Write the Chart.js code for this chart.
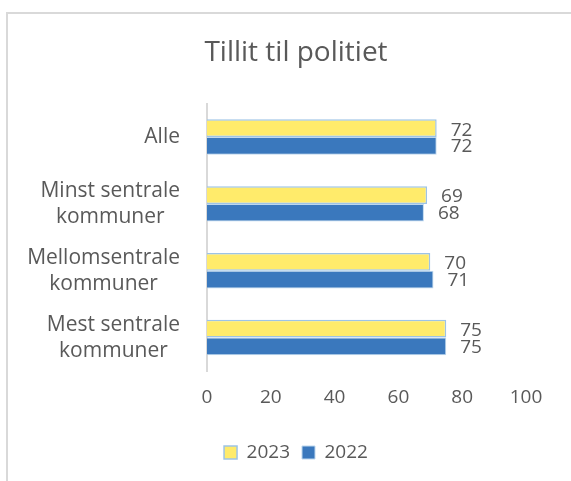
<!DOCTYPE html>
<html>
<head>
<meta charset="utf-8">
<script src="https://cdn.jsdelivr.net/npm/chart.js@4/dist/chart.umd.min.js"></script>
<style>
  html, body { margin: 0; padding: 0; background: #fff; }
  #frame {
    position: absolute; left: 6px; top: 12px; width: 571px; height: 481px;
    border-left: 2px solid #d9d9d9; border-top: 2px solid #d9d9d9;
  }
  #chart { position: absolute; left: 0; top: 0; }
</style>
</head>
<body>
<div id="frame"></div>
<canvas id="chart" width="571" height="481"></canvas>
<script>
// data
const categories = [['Alle'], ['Minst sentrale', 'kommuner'], ['Mellomsentrale', 'kommuner'], ['Mest sentrale', 'kommuner']];
const values2023 = [72, 69, 70, 75];
const values2022 = [72, 68, 71, 75];
const xTicks = [0, 20, 40, 60, 80, 100];

const textColor = '#595959';
const fontFamily = '"Open Sans", sans-serif';

// value labels just right of each bar
const barLabels = {
    id: 'barLabels',
    afterDatasetsDraw(chart) {
        const ctx = chart.ctx;
        ctx.save();
        ctx.font = '19px ' + fontFamily;
        ctx.fillStyle = textColor;
        ctx.textAlign = 'left';
        ctx.textBaseline = 'middle';
        chart.data.datasets.forEach((ds, i) => {
            chart.getDatasetMeta(i).data.forEach((bar, j) => {
                ctx.fillText(ds.data[j], bar.x + 14, bar.y + (i === 0 ? 2 : 1));
            });
        });
        ctx.restore();
    }
};

// category labels: block right-aligned, lines centred inside the block (like Excel)
const catLabels = {
    id: 'catLabels',
    afterDraw(chart) {
        const ctx = chart.ctx;
        const y = chart.scales.y;
        const right = 180, lh = 26;
        ctx.save();
        ctx.font = '21px ' + fontFamily;
        ctx.fillStyle = textColor;
        ctx.textAlign = 'center';
        ctx.textBaseline = 'middle';
        categories.forEach((lines, i) => {
            const w = Math.max(...lines.map(l => ctx.measureText(l).width));
            const cy = y.getPixelForValue(i);
            lines.forEach((l, k) => {
                ctx.fillText(l, right - w / 2, cy + (k - (lines.length - 1) / 2) * lh);
            });
        });
        ctx.restore();
    }
};

new Chart(document.getElementById('chart'), {
    type: 'bar',
    data: {
        labels: categories,
        datasets: [{
            label: '2023',
            data: values2023,
            backgroundColor: '#ffeb6b',
            borderColor: '#9dc3e6',
            borderWidth: 1.5
        }, {
            label: '2022',
            data: values2022,
            backgroundColor: '#3a78bd',
            borderColor: '#bdd7ee',
            borderWidth: 1
        }]
    },
    options: {
        indexAxis: 'y',
        responsive: false,
        animation: false,
        devicePixelRatio: 1,
        layout: { padding: { left: 66, right: 45, top: 0, bottom: 9 } },
        datasets: { bar: { categoryPercentage: 0.53, barPercentage: 1 } },
        plugins: {
            title: {
                display: true,
                text: 'Tillit til politiet',
                color: textColor,
                font: { family: fontFamily, size: 28, weight: 'normal' },
                padding: { top: 36, bottom: 34 }
            },
            legend: {
                position: 'bottom',
                labels: {
                    color: textColor,
                    font: { family: fontFamily, size: 19 },
                    boxWidth: 13,
                    boxHeight: 13,
                    padding: 12
                }
            },
            tooltip: { enabled: false }
        },
        scales: {
            x: {
                min: 0,
                max: 100,
                afterBuildTicks: s => { s.ticks = xTicks.map(v => ({ value: v })); },
                afterFit: s => { s.height = 60; },
                grid: { display: false, drawTicks: false },
                border: { display: false },
                ticks: {
                    color: textColor,
                    padding: 15,
                    font: { family: fontFamily, size: 19 }
                }
            },
            y: {
                afterFit: s => { s.width = 141; },
                grid: { display: false, drawTicks: false },
                border: { display: true, color: '#d9d9d9', width: 2 },
                ticks: { display: false }
            }
        }
    },
    plugins: [barLabels, catLabels]
});
</script>
</body>
</html>
